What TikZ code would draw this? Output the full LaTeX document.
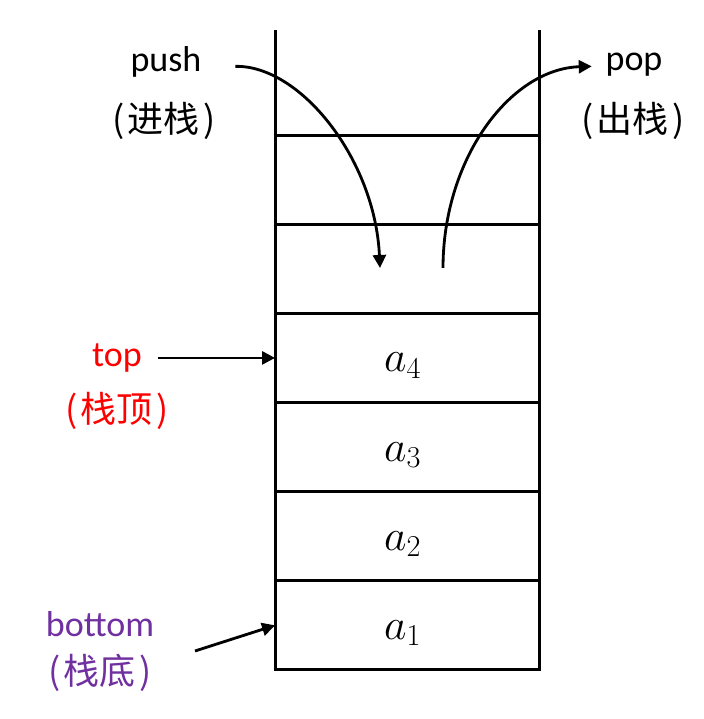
\documentclass[tikz,border=0pt]{standalone}
\usepackage{fontspec}
\setmainfont{Carlito}
\newfontfamily\cjk{Noto Sans CJK SC}
\usepackage{xcolor}
\usetikzlibrary{positioning,matrix,arrows.meta}
\definecolor{botpurple}{RGB}{112,48,160}
\newcommand{\cnpar}[1]{{\cjk(\kern2pt#1\kern2pt)}}
\tikzset{
    stack nodes/.style={
        draw,
        line width=1.7pt,
        outer sep=0pt,
        align=center,
        minimum height=1.783cm,
        minimum width =5.3cm,
        text height=16pt,
        text depth=0pt,
        font=\fontsize{24}{28}\selectfont
    },
    stack/.style={
        matrix of nodes,
        row sep=-1.7pt,
        nodes={
            stack nodes
          },
        nodes in empty cells
     },
    lbl/.style={font=\fontsize{20.5}{24}\selectfont, inner sep=2pt,
        text height=0.7em, text depth=0.2em},
    wall/.style={line width=1.7pt},
    arr/.style={line width=1.6pt, -{Triangle[length=2.6mm,width=2.6mm]}}
}
\begin{document}
\begin{tikzpicture}[x=0.02cm,y=0.02cm]
            \useasboundingbox (0,0) rectangle (703,719);
            \matrix[stack] (S) at (407.5,316.5)
            { \\
              \\
              $a_4$ \\
              $a_3$ \\
              $a_2$ \\
              $a_1$ \\
            };
            \foreach \s in {north west,north east}
              \draw[wall] (S-1-1.\s) -- ++(0,105);

            \node[lbl] (push) at (166,652) {push};
            \node[lbl] (pushcn) at (164,591) {\cnpar{进栈}};
            \node[lbl] (pop) at (634,653) {pop};
            \node[lbl] (popcn) at (633,591) {\cnpar{出栈}};
            \node[lbl,text=red] (toplbl) at (117,357) {top};
            \node[lbl,text=red] (topcn) at (117,301) {\cnpar{栈顶}};
            \node[lbl,text=botpurple] (botlbl) at (100,87) {bottom};
            \node[lbl,text=botpurple] (botcn) at (100,39) {\cnpar{栈底}};

            \coordinate (in) at (380,451);
            \coordinate (out) at (443,451);
            \coordinate (b0) at (195,68);

            \draw[arr,shorten <=0.6cm] (push.east) .. controls (300,654) and (375,560) .. (in);
            \draw[arr,shorten >=0.2cm] (out) .. controls (443,560) and (510,650) .. (pop.west);
            \draw[arr,shorten <=0.25cm] (toplbl.east |- S-3-1.west) -- (S-3-1.west);
            \draw[arr] (b0) -- (S-6-1.west);
          \end{tikzpicture}
\end{document}
